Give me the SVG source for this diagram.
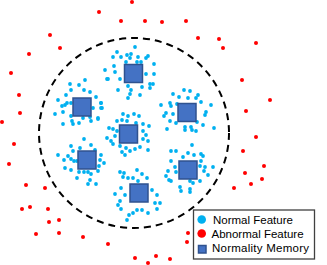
<svg xmlns="http://www.w3.org/2000/svg" width="327" height="265" viewBox="0 0 327 265">
<style>
.n{fill:#00B0F0}
.a{fill:#FF0000}
.m{fill:#4472C4;stroke:#2F528F;stroke-width:1.5}
.ring{fill:none;stroke:#000;stroke-width:2;stroke-dasharray:7 5}
.lt{font-family:"Liberation Sans",Arial,sans-serif;font-size:11.5px;fill:#000}
</style>
<rect width="327" height="265" fill="#fff"/>
<g id="boundary"><circle class="ring" cx="134" cy="133" r="95"/></g>
<g id="abnormal">
<circle class="a" r="2" cx="132" cy="2"/><circle class="a" r="2" cx="99" cy="12"/><circle class="a" r="2" cx="121" cy="21"/><circle class="a" r="2" cx="145" cy="21"/><circle class="a" r="2" cx="162" cy="22"/><circle class="a" r="2" cx="186" cy="21"/><circle class="a" r="2" cx="50" cy="35"/><circle class="a" r="2" cx="60" cy="48"/><circle class="a" r="2" cx="29" cy="54"/><circle class="a" r="2" cx="11" cy="73"/><circle class="a" r="2" cx="19" cy="95"/><circle class="a" r="2" cx="20" cy="113"/><circle class="a" r="2" cx="2" cy="122"/><circle class="a" r="2" cx="198" cy="38"/><circle class="a" r="2" cx="219" cy="39"/><circle class="a" r="2" cx="223" cy="48"/><circle class="a" r="2" cx="256" cy="43"/><circle class="a" r="2" cx="242" cy="80"/><circle class="a" r="2" cx="270" cy="100"/><circle class="a" r="2" cx="246" cy="111"/><circle class="a" r="2" cx="14" cy="144"/><circle class="a" r="2" cx="9" cy="164"/><circle class="a" r="2" cx="26" cy="185"/><circle class="a" r="2" cx="45" cy="188"/><circle class="a" r="2" cx="22" cy="209"/><circle class="a" r="2" cx="30" cy="207"/><circle class="a" r="2" cx="48" cy="209"/><circle class="a" r="2" cx="49" cy="222"/><circle class="a" r="2" cx="59" cy="220"/><circle class="a" r="2" cx="36" cy="234"/><circle class="a" r="2" cx="59" cy="233"/><circle class="a" r="2" cx="83" cy="237"/><circle class="a" r="2" cx="108" cy="244"/><circle class="a" r="2" cx="135" cy="258"/><circle class="a" r="2" cx="156" cy="256"/><circle class="a" r="2" cx="148" cy="263"/><circle class="a" r="2" cx="256" cy="137"/><circle class="a" r="2" cx="243" cy="151"/><circle class="a" r="2" cx="264" cy="166"/><circle class="a" r="2" cx="245" cy="173"/><circle class="a" r="2" cx="262" cy="179"/><circle class="a" r="2" cx="251" cy="184"/><circle class="a" r="2" cx="234" cy="188"/><circle class="a" r="2" cx="188" cy="233"/><circle class="a" r="2" cx="187" cy="242"/><circle class="a" r="2" cx="170" cy="259"/>
</g>
<g id="cluster1">
<circle class="n" r="1.9" cx="135" cy="47"/><circle class="n" r="1.9" cx="117" cy="52"/><circle class="n" r="1.9" cx="113" cy="57"/><circle class="n" r="1.9" cx="121" cy="57"/><circle class="n" r="1.9" cx="127" cy="55"/><circle class="n" r="1.9" cx="131" cy="54"/><circle class="n" r="1.9" cx="130" cy="58"/><circle class="n" r="1.9" cx="138" cy="57"/><circle class="n" r="1.9" cx="146" cy="58"/><circle class="n" r="1.9" cx="148" cy="56"/><circle class="n" r="1.9" cx="126" cy="62"/><circle class="n" r="1.9" cx="137" cy="62"/><circle class="n" r="1.9" cx="141" cy="62"/><circle class="n" r="1.9" cx="154" cy="64"/><circle class="n" r="1.9" cx="114" cy="66"/><circle class="n" r="1.9" cx="105" cy="70"/><circle class="n" r="1.9" cx="115" cy="72"/><circle class="n" r="1.9" cx="146" cy="74"/><circle class="n" r="1.9" cx="154" cy="74"/><circle class="n" r="1.9" cx="108" cy="79"/><circle class="n" r="1.9" cx="120" cy="79"/><circle class="n" r="1.9" cx="150" cy="84"/><circle class="n" r="1.9" cx="153" cy="84"/><circle class="n" r="1.9" cx="142" cy="87"/><circle class="n" r="1.9" cx="150" cy="88"/><circle class="n" r="1.9" cx="128" cy="86"/><circle class="n" r="1.9" cx="118" cy="90"/><circle class="n" r="1.9" cx="131" cy="90"/><circle class="n" r="1.9" cx="130" cy="94"/><circle class="n" r="1.9" cx="140" cy="95"/><circle class="n" r="1.9" cx="128" cy="98"/>
<rect class="m" x="124.5" y="64.5" width="18" height="18"/>
</g>
<g id="cluster2">
<circle class="n" r="1.9" cx="85" cy="80"/><circle class="n" r="1.9" cx="70" cy="84"/><circle class="n" r="1.9" cx="79" cy="85"/><circle class="n" r="1.9" cx="84" cy="90"/><circle class="n" r="1.9" cx="71" cy="90"/><circle class="n" r="1.9" cx="66" cy="95"/><circle class="n" r="1.9" cx="90" cy="92"/><circle class="n" r="1.9" cx="96" cy="97"/><circle class="n" r="1.9" cx="58" cy="100"/><circle class="n" r="1.9" cx="67" cy="103"/><circle class="n" r="1.9" cx="62" cy="106"/><circle class="n" r="1.9" cx="71" cy="103"/><circle class="n" r="1.9" cx="65" cy="105"/><circle class="n" r="1.9" cx="101" cy="103"/><circle class="n" r="1.9" cx="93" cy="108"/><circle class="n" r="1.9" cx="102" cy="108"/><circle class="n" r="1.9" cx="63" cy="112"/><circle class="n" r="1.9" cx="55" cy="114"/><circle class="n" r="1.9" cx="71" cy="116"/><circle class="n" r="1.9" cx="90" cy="117"/><circle class="n" r="1.9" cx="83" cy="118"/><circle class="n" r="1.9" cx="91" cy="121"/><circle class="n" r="1.9" cx="98" cy="118"/><circle class="n" r="1.9" cx="72" cy="121"/><circle class="n" r="1.9" cx="73" cy="124"/><circle class="n" r="1.9" cx="63" cy="124"/><circle class="n" r="1.9" cx="79" cy="123"/><circle class="n" r="1.9" cx="107" cy="79"/>
<rect class="m" x="73" y="98" width="18" height="18"/>
</g>
<g id="cluster3">
<circle class="n" r="1.9" cx="101" cy="108"/><circle class="n" r="1.9" cx="101" cy="103"/><circle class="n" r="1.9" cx="98" cy="119"/><circle class="n" r="1.9" cx="123" cy="114"/><circle class="n" r="1.9" cx="128" cy="116"/><circle class="n" r="1.9" cx="134" cy="114"/><circle class="n" r="1.9" cx="139" cy="116"/><circle class="n" r="1.9" cx="117" cy="121"/><circle class="n" r="1.9" cx="122" cy="120"/><circle class="n" r="1.9" cx="127" cy="121"/><circle class="n" r="1.9" cx="136" cy="123"/><circle class="n" r="1.9" cx="143" cy="124"/><circle class="n" r="1.9" cx="149" cy="126"/><circle class="n" r="1.9" cx="109" cy="128"/><circle class="n" r="1.9" cx="113" cy="129"/><circle class="n" r="1.9" cx="117" cy="131"/><circle class="n" r="1.9" cx="143" cy="131"/><circle class="n" r="1.9" cx="146" cy="135"/><circle class="n" r="1.9" cx="107" cy="138"/><circle class="n" r="1.9" cx="115" cy="136"/><circle class="n" r="1.9" cx="111" cy="141"/><circle class="n" r="1.9" cx="143" cy="139"/><circle class="n" r="1.9" cx="148" cy="141"/><circle class="n" r="1.9" cx="113" cy="144"/><circle class="n" r="1.9" cx="120" cy="146"/><circle class="n" r="1.9" cx="126" cy="148"/><circle class="n" r="1.9" cx="135" cy="149"/><circle class="n" r="1.9" cx="140" cy="147"/><circle class="n" r="1.9" cx="130" cy="151"/><circle class="n" r="1.9" cx="148" cy="150"/><circle class="n" r="1.9" cx="122" cy="152"/><circle class="n" r="1.9" cx="125" cy="155"/>
<rect class="m" x="119.5" y="125" width="18" height="18"/>
</g>
<g id="cluster4">
<circle class="n" r="1.9" cx="184" cy="90"/><circle class="n" r="1.9" cx="190" cy="91"/><circle class="n" r="1.9" cx="173" cy="94"/><circle class="n" r="1.9" cx="179" cy="97"/><circle class="n" r="1.9" cx="188" cy="98"/><circle class="n" r="1.9" cx="198" cy="95"/><circle class="n" r="1.9" cx="196" cy="98"/><circle class="n" r="1.9" cx="161" cy="105"/><circle class="n" r="1.9" cx="170" cy="103"/><circle class="n" r="1.9" cx="171" cy="106"/><circle class="n" r="1.9" cx="177" cy="104"/><circle class="n" r="1.9" cx="201" cy="102"/><circle class="n" r="1.9" cx="211" cy="105"/><circle class="n" r="1.9" cx="173" cy="114"/><circle class="n" r="1.9" cx="166" cy="113"/><circle class="n" r="1.9" cx="164" cy="116"/><circle class="n" r="1.9" cx="206" cy="112"/><circle class="n" r="1.9" cx="205" cy="115"/><circle class="n" r="1.9" cx="170" cy="121"/><circle class="n" r="1.9" cx="176" cy="123"/><circle class="n" r="1.9" cx="197" cy="122"/><circle class="n" r="1.9" cx="167" cy="129"/><circle class="n" r="1.9" cx="185" cy="127"/><circle class="n" r="1.9" cx="191" cy="127"/><circle class="n" r="1.9" cx="203" cy="125"/><circle class="n" r="1.9" cx="185" cy="130"/><circle class="n" r="1.9" cx="192" cy="130"/><circle class="n" r="1.9" cx="196" cy="131"/><circle class="n" r="1.9" cx="214" cy="128"/>
<rect class="m" x="178" y="103.5" width="18" height="18"/>
</g>
<g id="cluster5">
<circle class="n" r="1.9" cx="84" cy="139"/><circle class="n" r="1.9" cx="71" cy="146"/><circle class="n" r="1.9" cx="91" cy="145"/><circle class="n" r="1.9" cx="80" cy="148"/><circle class="n" r="1.9" cx="95" cy="150"/><circle class="n" r="1.9" cx="73" cy="151"/><circle class="n" r="1.9" cx="58" cy="155"/><circle class="n" r="1.9" cx="68" cy="156"/><circle class="n" r="1.9" cx="101" cy="155"/><circle class="n" r="1.9" cx="74" cy="161"/><circle class="n" r="1.9" cx="71" cy="159"/><circle class="n" r="1.9" cx="64" cy="160"/><circle class="n" r="1.9" cx="100" cy="160"/><circle class="n" r="1.9" cx="77" cy="161"/><circle class="n" r="1.9" cx="104" cy="163"/><circle class="n" r="1.9" cx="65" cy="168"/><circle class="n" r="1.9" cx="99" cy="166"/><circle class="n" r="1.9" cx="98" cy="171"/><circle class="n" r="1.9" cx="71" cy="170"/><circle class="n" r="1.9" cx="79" cy="172"/><circle class="n" r="1.9" cx="84" cy="172"/><circle class="n" r="1.9" cx="88" cy="172"/><circle class="n" r="1.9" cx="91" cy="174"/><circle class="n" r="1.9" cx="77" cy="178"/><circle class="n" r="1.9" cx="90" cy="180"/><circle class="n" r="1.9" cx="96" cy="184"/><circle class="n" r="1.9" cx="88" cy="184"/>
<rect class="m" x="78" y="151" width="18" height="18"/>
</g>
<g id="cluster6">
<circle class="n" r="1.9" cx="192" cy="145"/><circle class="n" r="1.9" cx="171" cy="151"/><circle class="n" r="1.9" cx="176" cy="151"/><circle class="n" r="1.9" cx="188" cy="153"/><circle class="n" r="1.9" cx="194" cy="155"/><circle class="n" r="1.9" cx="201" cy="154"/><circle class="n" r="1.9" cx="203" cy="156"/><circle class="n" r="1.9" cx="183" cy="157"/><circle class="n" r="1.9" cx="171" cy="161"/><circle class="n" r="1.9" cx="201" cy="161"/><circle class="n" r="1.9" cx="175" cy="167"/><circle class="n" r="1.9" cx="200" cy="166"/><circle class="n" r="1.9" cx="205" cy="167"/><circle class="n" r="1.9" cx="213" cy="167"/><circle class="n" r="1.9" cx="168" cy="171"/><circle class="n" r="1.9" cx="176" cy="172"/><circle class="n" r="1.9" cx="204" cy="171"/><circle class="n" r="1.9" cx="208" cy="175"/><circle class="n" r="1.9" cx="166" cy="176"/><circle class="n" r="1.9" cx="169" cy="180"/><circle class="n" r="1.9" cx="171" cy="181"/><circle class="n" r="1.9" cx="200" cy="181"/><circle class="n" r="1.9" cx="190" cy="181"/><circle class="n" r="1.9" cx="193" cy="183"/><circle class="n" r="1.9" cx="180" cy="187"/><circle class="n" r="1.9" cx="190" cy="189"/><circle class="n" r="1.9" cx="181" cy="191"/><circle class="n" r="1.9" cx="190" cy="192"/>
<rect class="m" x="179" y="161" width="18" height="18"/>
</g>
<g id="cluster7">
<circle class="n" r="1.9" cx="120" cy="172"/><circle class="n" r="1.9" cx="124" cy="173"/><circle class="n" r="1.9" cx="123" cy="177"/><circle class="n" r="1.9" cx="128" cy="178"/><circle class="n" r="1.9" cx="137" cy="170"/><circle class="n" r="1.9" cx="142" cy="174"/><circle class="n" r="1.9" cx="147" cy="178"/><circle class="n" r="1.9" cx="133" cy="178"/><circle class="n" r="1.9" cx="138" cy="181"/><circle class="n" r="1.9" cx="121" cy="188"/><circle class="n" r="1.9" cx="152" cy="190"/><circle class="n" r="1.9" cx="115" cy="194"/><circle class="n" r="1.9" cx="125" cy="195"/><circle class="n" r="1.9" cx="157" cy="195"/><circle class="n" r="1.9" cx="155" cy="203"/><circle class="n" r="1.9" cx="160" cy="203"/><circle class="n" r="1.9" cx="120" cy="201"/><circle class="n" r="1.9" cx="118" cy="205"/><circle class="n" r="1.9" cx="121" cy="209"/><circle class="n" r="1.9" cx="157" cy="209"/><circle class="n" r="1.9" cx="137" cy="210"/><circle class="n" r="1.9" cx="142" cy="210"/><circle class="n" r="1.9" cx="148" cy="213"/><circle class="n" r="1.9" cx="133" cy="213"/><circle class="n" r="1.9" cx="129" cy="215"/><circle class="n" r="1.9" cx="127" cy="220"/>
<rect class="m" x="130" y="184" width="18" height="18"/>
</g>
<g id="connectors"/>
<g id="legend">
<rect x="193.5" y="210" width="121" height="49" fill="#fff" stroke="#404040" stroke-width="1.3"/>
<circle class="n" cx="201.7" cy="219.5" r="4.3"/>
<text class="lt" x="213" y="224">Normal Feature</text>
<circle class="a" cx="201.7" cy="233.5" r="4.3"/>
<text class="lt" x="211.5" y="237.5">Abnormal Feature</text>
<rect class="m" x="198.5" y="245.5" width="7.5" height="7.5" stroke-width="1"/>
<text class="lt" x="212" y="252.3" textLength="97">Normality Memory</text>
</g>
</svg>
